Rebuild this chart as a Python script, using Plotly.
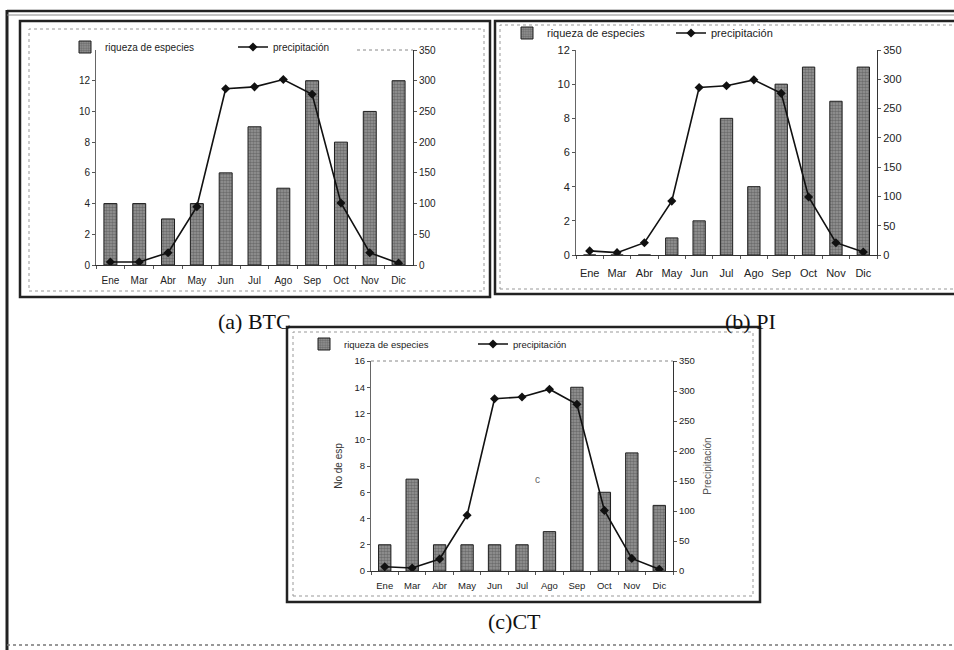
import plotly.graph_objects as go

W, H = 954, 650

meses = ["Ene", "Mar", "Abr", "May", "Jun", "Jul", "Ago", "Sep", "Oct", "Nov", "Dic"]
riqueza_btc = [4, 4, 3, 4, 6, 9, 5, 12, 8, 10, 12]
precip_btc = [5, 5, 20, 95, 287, 290, 302, 278, 101, 20, 3]
riqueza_pi = [0, 0, 0, 1, 2, 8, 4, 10, 11, 9, 11]
precip_pi = [7, 4, 21, 92, 286, 289, 299, 276, 99, 21, 5]
riqueza_ct = [2, 7, 2, 2, 2, 2, 3, 14, 6, 9, 5]
precip_ct = [7, 5, 20, 93, 287, 290, 303, 278, 101, 21, 3]

etiquetas = ["(a) BTC", "(b) PI", "(c)CT"]
nombre_barras = "riqueza de especies"
nombre_linea = "precipitación"


def px_x(v):
    return v / W


def px_y(v):
    return 1 - v / H


fig = go.Figure()

# bars, precip, x-domain px, y-domain px (top,bottom), left max, top labelled tick, font, x-label standoff
panels = [
    (riqueza_btc, precip_btc, (96, 413), (50, 265), 14, 12, 10, 6),
    (riqueza_pi, precip_pi, (576, 877), (50, 255), 12, 12, 11, 8),
    (riqueza_ct, precip_ct, (371, 673), (361, 571), 16, 16, 9.5, 6),
]
legend_pos = [((65, 47), (233, 47), 10), ((507, 33), (671, 33), 11), ((304, 344), (473, 344), 9.5)]

bar_marker = dict(
    color="#444444",
    line=dict(color="#1e1e1e", width=1),
    pattern=dict(shape=".", bgcolor="#979797", fgcolor="#444444", size=3, solidity=0.55),
)

layout_axes = {}
for i, (bars, prec, xd, yd, lmax, ltop, fs, xso) in enumerate(panels):
    n = i + 1
    xa = "x" if n == 1 else f"x{n}"
    ya_l = "y" if n == 1 else f"y{2 * n - 1}"
    ya_r = f"y{2 * n}"
    lg1 = "legend" if n == 1 else f"legend{2 * n - 1}"
    lg2 = f"legend{2 * n}"
    fig.add_trace(go.Bar(x=meses, y=bars, xaxis=xa, yaxis=ya_l, name=nombre_barras,
                         marker=bar_marker, width=0.45, legend=lg1))
    fig.add_trace(go.Scatter(x=meses, y=prec, xaxis=xa, yaxis=ya_r, name=nombre_linea,
                             mode="lines+markers", line=dict(color="#111", width=1.6),
                             marker=dict(symbol="diamond", size=7, color="#111"), legend=lg2))
    xkey = "xaxis" if n == 1 else f"xaxis{n}"
    ylkey = "yaxis" if n == 1 else f"yaxis{2 * n - 1}"
    yrkey = f"yaxis{2 * n}"
    dom_x = [px_x(xd[0]), px_x(xd[1])]
    dom_y = [px_y(yd[1]), px_y(yd[0])]
    tickfont = dict(family="Liberation Sans, Arial", size=fs, color="#222")
    layout_axes[xkey] = dict(domain=dom_x, anchor=ya_l, type="category", showgrid=False,
                             range=[-0.5, len(meses) - 0.5],
                             showline=True, linecolor="#333", linewidth=1, ticks="outside",
                             tickson="boundaries", ticklen=3, tickcolor="#555", tickangle=0,
                             ticklabelstandoff=xso, tickfont=tickfont, automargin=False)
    layout_axes[ylkey] = dict(domain=dom_y, anchor=xa, range=[0, lmax], tickvals=list(range(0, ltop + 1, 2)),
                              showgrid=False, showline=True, linecolor="#666", linewidth=1,
                              ticks="outside", ticklen=3, tickcolor="#555", tickfont=tickfont,
                              zeroline=False, automargin=False)
    layout_axes[yrkey] = dict(domain=dom_y, anchor=xa, overlaying=ya_l, side="right",
                              range=[0, 350], dtick=50, showgrid=False, showline=True,
                              linecolor="#333", linewidth=1, ticks="outside", ticklen=3,
                              tickcolor="#555", tickfont=tickfont, zeroline=False, automargin=False)
    (l1, l2, lfs) = legend_pos[i]
    lfont = dict(family="Liberation Sans, Arial", size=lfs, color="#222")
    layout_axes[lg1] = dict(x=px_x(l1[0]), y=px_y(l1[1]), xanchor="left", yanchor="middle",
                            bgcolor="rgba(0,0,0,0)", font=lfont, itemwidth=30)
    layout_axes[lg2] = dict(x=px_x(l2[0]), y=px_y(l2[1]), xanchor="left", yanchor="middle",
                            bgcolor="rgba(0,0,0,0)", font=lfont, itemwidth=30)

layout_axes["yaxis5"].update(title=dict(text="No de esp", font=dict(size=10, color="#333"), standoff=10))
layout_axes["yaxis6"].update(title=dict(text="Precipitación", font=dict(size=10, color="#555"), standoff=10))

shapes = []


def rect(x0, y0, x1, y1, color="#222", width=2, dash="solid"):
    shapes.append(dict(type="rect", xref="paper", yref="paper", x0=px_x(x0), x1=px_x(x1),
                       y0=px_y(y1), y1=px_y(y0), line=dict(color=color, width=width, dash=dash)))


def line(x0, y0, x1, y1, color="#222", width=2, dash="solid"):
    shapes.append(dict(type="line", xref="paper", yref="paper", x0=px_x(x0), x1=px_x(x1),
                       y0=px_y(y0), y1=px_y(y1), line=dict(color=color, width=width, dash=dash)))


line(7, 10, 7, 650, width=3)
line(7, 11, 954, 11, width=2.5)
line(7, 15, 954, 15, color="#888", width=1)
line(7, 645, 954, 645, color="#777", width=1.5, dash="dot")
rect(20, 21, 490, 297, width=2.5)
rect(29, 29, 484, 291, color="#999", width=1, dash="dot")
rect(495, 21, 960, 294, width=2.5)
rect(500, 25, 960, 289, color="#999", width=1, dash="dot")
rect(287, 327, 760, 602, width=2.5)
rect(293, 332, 753, 596, color="#999", width=1, dash="dot")
line(357, 50, 413, 50, color="#888", width=1, dash="dot")
line(371, 361, 673, 361, color="#888", width=1, dash="dot")

annotations = [
    dict(text=etiquetas[0], x=px_x(216), y=px_y(322), xref="paper", yref="paper", showarrow=False,
         yanchor="middle", font=dict(family="Liberation Serif, Times New Roman", size=22, color="#111")),
    dict(text=etiquetas[1], x=px_x(778), y=px_y(322), xref="paper", yref="paper", showarrow=False,
         yanchor="middle", font=dict(family="Liberation Serif, Times New Roman", size=22, color="#111")),
    dict(text=etiquetas[2], x=px_x(514), y=px_y(621), xref="paper", yref="paper", showarrow=False,
         yanchor="middle", font=dict(family="Liberation Serif, Times New Roman", size=22, color="#111")),
    dict(text="c", x=px_x(537), y=px_y(487), xref="paper", yref="paper", showarrow=False,
         font=dict(family="Liberation Sans, Arial", size=10, color="#666")),
]

fig.update_layout(
    width=W, height=H, margin=dict(l=0, r=0, t=0, b=0, pad=0, autoexpand=False),
    paper_bgcolor="white", plot_bgcolor="rgba(0,0,0,0)",
    font=dict(family="Liberation Sans, Arial", color="#222"),
    showlegend=True, bargap=0.55, shapes=shapes, annotations=annotations,
    **layout_axes,
)

fig.write_html("out.html", config={"displayModeBar": False},
               post_script="document.body.style.margin='0px';")
